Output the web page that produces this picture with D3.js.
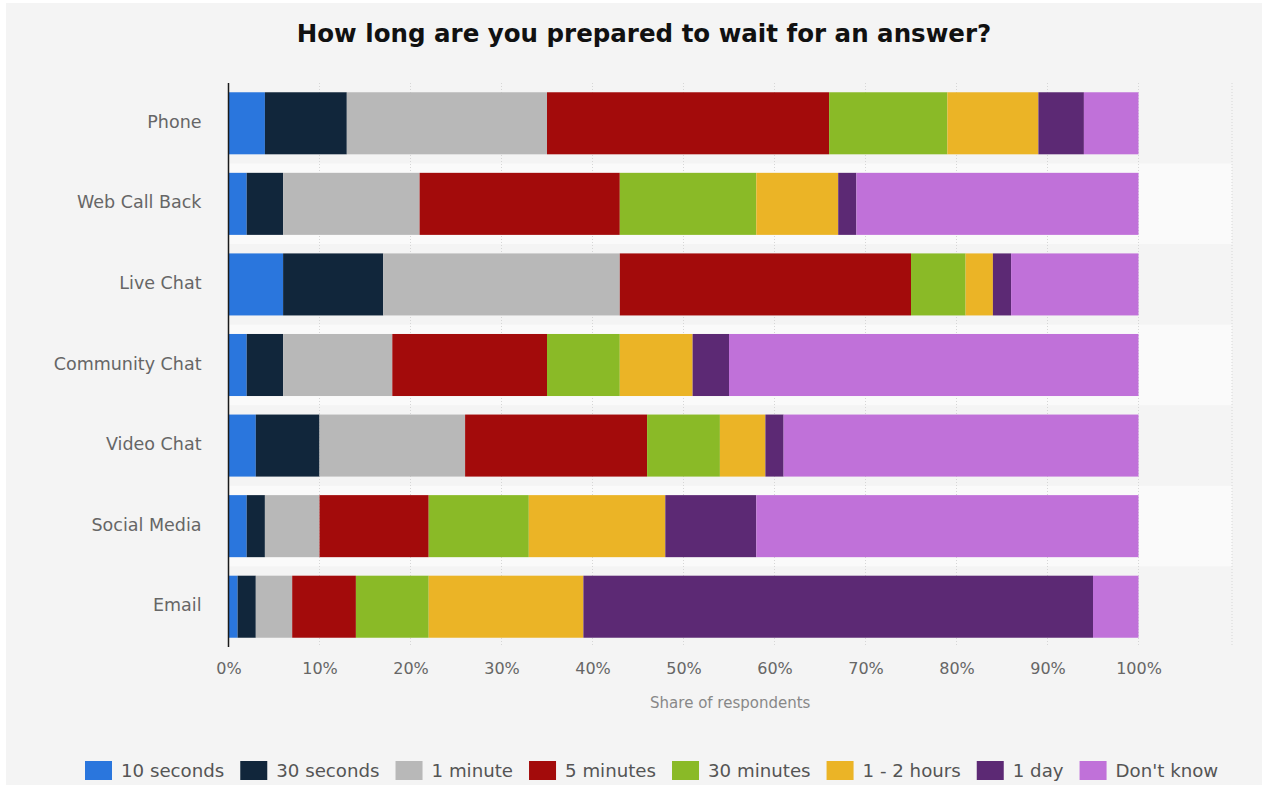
<!DOCTYPE html>
<html>
<head>
<meta charset="utf-8">
<script src="https://cdn.jsdelivr.net/npm/d3@7"></script>
<style>
  html, body { margin: 0; padding: 0; background: #ffffff; }
  svg { display: block; }
  text { font-family: "DejaVu Sans", sans-serif; }
</style>
</head>
<body>
<svg id="chart" width="1268" height="785"></svg>
<script>
// Channels (rows, top to bottom)
const channels = ["Phone", "Web Call Back", "Live Chat", "Community Chat", "Video Chat", "Social Media", "Email"];

// Answer categories (stack order, left to right)
const waitTimes = ["10 seconds", "30 seconds", "1 minute", "5 minutes", "30 minutes", "1 - 2 hours", "1 day", "Don't know"];

// Share of respondents (%) per channel, one array per wait time
const sec10   = [4, 2, 6, 2, 3, 2, 1];
const sec30   = [9, 4, 11, 4, 7, 2, 2];
const min1    = [22, 15, 26, 12, 16, 6, 4];
const min5    = [31, 22, 32, 17, 20, 12, 7];
const min30   = [13, 15, 6, 8, 8, 11, 8];
const hours12 = [10, 9, 3, 8, 5, 15, 17];
const day1    = [5, 2, 2, 4, 2, 10, 56];
const dontKnow = [6, 31, 14, 45, 39, 42, 5];

const seriesValues = [sec10, sec30, min1, min5, min30, hours12, day1, dontKnow];
const colors = ["#2a76dd", "#11263b", "#b8b8b8", "#a30b0b", "#8aba27", "#ebb426", "#5c2974", "#c071d9"];

const xTicks = [0, 10, 20, 30, 40, 50, 60, 70, 80, 90, 100];
const title = "How long are you prepared to wait for an answer?";
const xTitle = "Share of respondents";

// Table for the stack layout
const rows = channels.map((c, i) => {
  const r = { channel: c };
  waitTimes.forEach((w, k) => { r[w] = seriesValues[k][i]; });
  return r;
});

const svg = d3.select("#chart");

// Light panel behind the chart
svg.append("rect")
  .attr("x", 6).attr("y", 3).attr("width", 1256).attr("height", 782)
  .attr("fill", "#f4f4f4");

const plot = { left: 228.5, right: 1232, top: 83, bottom: 647 };

const x = d3.scaleLinear().domain([0, 100]).range([plot.left, 1138.5]);
const y = d3.scaleBand().domain(channels).range([plot.top, plot.bottom])
  .paddingInner(0.23).paddingOuter(0.115);
const color = d3.scaleOrdinal().domain(waitTimes).range(colors);

// Alternating row bands
svg.append("g").selectAll("rect")
  .data(channels)
  .join("rect")
  .attr("x", plot.left)
  .attr("y", d => y(d) - y.step() * y.paddingInner() / 2)
  .attr("width", plot.right - plot.left)
  .attr("height", y.step())
  .attr("fill", (d, i) => i % 2 ? "#fafafa" : "#f4f4f4");

// Dotted vertical grid
const grid = svg.append("g");
grid.selectAll("line")
  .data(xTicks.slice(1))
  .join("line")
  .attr("x1", d => x(d)).attr("x2", d => x(d))
  .attr("y1", plot.top).attr("y2", plot.bottom)
  .attr("stroke", "#d6d6d6").attr("stroke-width", 1)
  .attr("stroke-dasharray", "1,2");
grid.append("line")
  .attr("x1", plot.right).attr("x2", plot.right)
  .attr("y1", plot.top).attr("y2", plot.bottom)
  .attr("stroke", "#d6d6d6").attr("stroke-width", 1)
  .attr("stroke-dasharray", "1,2");

// Stacked bars
const stacked = d3.stack().keys(waitTimes)(rows);
svg.append("g").selectAll("g")
  .data(stacked)
  .join("g")
  .attr("fill", d => color(d.key))
  .selectAll("rect")
  .data(d => d)
  .join("rect")
  .attr("x", d => x(d[0]))
  .attr("y", d => y(d.data.channel))
  .attr("width", d => x(d[1]) - x(d[0]))
  .attr("height", y.bandwidth());

// Y axis (category labels + axis line)
const yAxis = svg.append("g")
  .attr("transform", `translate(${plot.left},-1)`)
  .call(d3.axisLeft(y).tickSize(0).tickPadding(27));
yAxis.select(".domain").remove();
yAxis.selectAll("text")
  .attr("fill", "#666666")
  .style("font-size", "17.5px")
  .style("font-family", "'DejaVu Sans', sans-serif");
svg.append("line")
  .attr("x1", plot.left).attr("x2", plot.left)
  .attr("y1", plot.top).attr("y2", plot.bottom)
  .attr("stroke", "#1a1a1a").attr("stroke-width", 1.5);

// X axis labels
const xAxis = svg.append("g")
  .attr("transform", `translate(0,${plot.bottom})`)
  .call(d3.axisBottom(x).tickValues(xTicks).tickFormat(d => d + "%").tickSize(0).tickPadding(16));
xAxis.select(".domain").remove();
xAxis.selectAll("text")
  .attr("fill", "#666666")
  .style("font-size", "16px")
  .style("font-family", "'DejaVu Sans', sans-serif");

// Axis title
svg.append("text")
  .attr("x", (plot.left + plot.right) / 2)
  .attr("y", 708)
  .attr("text-anchor", "middle")
  .attr("fill", "#888888")
  .style("font-size", "15px")
  .text(xTitle);

// Chart title
svg.append("text")
  .attr("x", 644)
  .attr("y", 42)
  .attr("text-anchor", "middle")
  .attr("fill", "#111111")
  .style("font-size", "24.5px")
  .style("font-weight", "bold")
  .text(title);

// Legend
const legend = svg.append("g").attr("transform", "translate(85,761)");
let lx = 0;
waitTimes.forEach((w) => {
  const item = legend.append("g").attr("transform", `translate(${lx},0)`);
  item.append("rect")
    .attr("width", 27).attr("height", 19)
    .attr("fill", color(w));
  const t = item.append("text")
    .attr("x", 36).attr("y", 16)
    .attr("fill", "#555555")
    .style("font-size", "18.2px")
    .text(w);
  lx += 36 + t.node().getComputedTextLength() + 16;
});
</script>
</body>
</html>
